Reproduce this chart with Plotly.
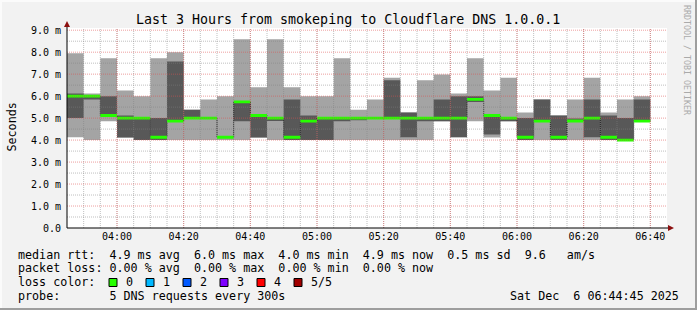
import plotly.graph_objects as go

# ---------------- data ----------------
DAY = "2025-12-06"
times = ["03:45", "03:50", "03:55", "04:00", "04:05", "04:10", "04:15", "04:20",
         "04:25", "04:30", "04:35", "04:40", "04:45", "04:50", "04:55", "05:00",
         "05:05", "05:10", "05:15", "05:20", "05:25", "05:30", "05:35", "05:40",
         "05:45", "05:50", "05:55", "06:00", "06:05", "06:10", "06:15", "06:20",
         "06:25", "06:30", "06:35"]
end_time = "06:40"

# sorted ping RTTs (ms) per 5-minute step: min, 2nd, median, 4th, max
ping_min = [4.13, 4.00, 4.86, 4.12, 4.00, 4.00, 4.00, 4.00, 4.00, 4.00, 4.00, 4.12,
            4.00, 4.00, 4.00, 4.00, 4.00, 4.00, 4.00, 4.00, 4.00, 4.00, 4.86, 4.13,
            4.86, 4.12, 4.86, 4.00, 4.00, 4.00, 4.00, 4.00, 4.00, 4.00, 4.86]
ping_lo = [5.00, 5.85, 5.10, 4.12, 4.00, 4.00, 4.86, 5.00, 5.00, 4.13, 4.86, 4.12,
           4.87, 4.00, 4.00, 4.00, 4.86, 4.90, 5.00, 5.00, 4.13, 4.86, 4.86, 4.13,
           5.73, 4.25, 4.86, 4.00, 4.86, 4.00, 4.86, 4.13, 4.00, 4.00, 4.86]
median = [6.00, 6.00, 5.12, 5.00, 5.00, 4.13, 4.86, 5.00, 5.00, 4.13, 5.74, 5.12,
          5.00, 4.13, 4.86, 5.00, 5.00, 5.00, 5.00, 5.00, 5.00, 5.00, 5.00, 5.00,
          5.85, 5.12, 5.00, 4.13, 4.86, 4.13, 4.87, 5.00, 4.13, 4.00, 4.86]
ping_hi = [6.12, 6.00, 6.00, 5.12, 5.00, 5.00, 7.58, 5.38, 5.00, 4.13, 5.74, 5.12,
           5.00, 5.85, 5.12, 5.00, 5.00, 5.00, 5.00, 6.72, 5.26, 5.00, 5.85, 5.99,
           5.99, 5.12, 5.00, 5.00, 5.85, 5.12, 4.98, 5.85, 5.12, 5.00, 5.85]
ping_max = [7.95, 6.12, 7.72, 6.26, 6.00, 7.72, 8.00, 5.38, 5.85, 6.00, 8.59, 6.40,
            8.59, 6.40, 6.00, 6.00, 7.72, 5.38, 5.85, 6.84, 5.26, 6.72, 6.98, 6.12,
            7.72, 6.26, 6.84, 5.26, 5.85, 5.12, 5.85, 6.84, 5.26, 5.85, 5.99]

y_tickvals = [0, 1, 2, 3, 4, 5, 6, 7, 8, 9]
y_ticktext = ["0.0", "1.0 m", "2.0 m", "3.0 m", "4.0 m", "5.0 m",
              "6.0 m", "7.0 m", "8.0 m", "9.0 m"]
x_ticks = ["04:00", "04:20", "04:40", "05:00", "05:20", "05:40", "06:00", "06:20", "06:40"]
x_minor = ["03:50", "03:55", "04:00", "04:05", "04:10", "04:15", "04:20", "04:25", "04:30",
           "04:35", "04:40", "04:45", "04:50", "04:55", "05:00", "05:05", "05:10", "05:15",
           "05:20", "05:25", "05:30", "05:35", "05:40", "05:45", "05:50", "05:55", "06:00",
           "06:05", "06:10", "06:15", "06:20", "06:25", "06:30", "06:35", "06:40"]
y_minor = [0.5, 1.5, 2.5, 3.5, 4.5, 5.5, 6.5, 7.5, 8.5]
x_start, x_end = "03:45", "06:45"

title = "Last 3 Hours from smokeping to Cloudflare DNS 1.0.0.1"
legend_lines = [
    "median rtt:  4.9 ms avg  6.0 ms max  4.0 ms min  4.9 ms now  0.5 ms sd  9.6   am/s",
    "packet loss: 0.00 % avg  0.00 % max  0.00 % min  0.00 % now",
    "loss color:",
    "probe:       5 DNS requests every 300s",
]
stamp = "Sat Dec  6 06:44:45 2025"
loss_labels = ["0", "1", "2", "3", "4", "5/5"]
loss_colors = ["#26ff00", "#00b8ff", "#0059ff", "#7e00ff", "#ff0000", "#a10000"]

# ---------------- helpers ----------------
W, H = 697, 310
L, R, T, B = 67, 30, 28, 82
PW, PH = W - L - R, H - T - B
YMAX = 9.1
MONO = "DejaVu Sans Mono"


def PX(x):
    return (x - L) / PW


def PY(y):
    return (H - B - y) / PH


def ts(t):
    return f"{DAY} {t}"


def ext(a):
    return list(a) + [a[-1]]


def nb(s):
    return s.replace(" ", "\u00a0")


X = [ts(t) for t in times] + [ts(end_time)]
half = 0.065

fig = go.Figure()


def step(y, fill=None, color=None, width=0, lcolor="rgba(0,0,0,0)", dash=None):
    fig.add_trace(go.Scatter(
        x=X, y=ext(y), mode="lines",
        line=dict(shape="hv", width=width, color=lcolor, dash=dash),
        fill=fill, fillcolor=color, hoverinfo="skip", showlegend=False))


step(ping_min)
step(ping_max, fill="tonexty", color="#a4a4a4")
step(ping_lo)
step(ping_hi, fill="tonexty", color="#585858")
step(median, width=1, lcolor="#202020", dash="1px,1px")
step([m - half for m in median])
step([m + half for m in median], fill="tonexty", color=loss_colors[0])

shapes = []
# grid (drawn above data like rrdtool)
gmin = dict(color="rgba(130,130,130,0.5)", width=1, dash="1px,1px")
gmaj = dict(color="rgba(222,80,80,0.55)", width=1, dash="1px,1px")
for t in x_minor:
    shapes.append(dict(type="line", xref="x", yref="y", x0=ts(t), x1=ts(t), y0=0, y1=YMAX,
                       line=gmin, layer="above"))
for v in y_minor:
    shapes.append(dict(type="line", xref="x", yref="y", x0=ts(x_start), x1=ts(x_end), y0=v, y1=v,
                       line=gmin, layer="above"))
for t in x_ticks:
    shapes.append(dict(type="line", xref="x", yref="y", x0=ts(t), x1=ts(t), y0=0, y1=YMAX,
                       line=gmaj, layer="above"))
for v in y_tickvals[1:]:
    shapes.append(dict(type="line", xref="x", yref="y", x0=ts(x_start), x1=ts(x_end), y0=v, y1=v,
                       line=gmaj, layer="above"))

# axes lines + arrows
shapes.append(dict(type="line", xref="paper", yref="paper", x0=PX(67), x1=PX(669),
                   y0=PY(228), y1=PY(228), line=dict(color="#000000", width=1), layer="above"))
shapes.append(dict(type="line", xref="paper", yref="paper", x0=PX(67), x1=PX(67),
                   y0=PY(228), y1=PY(24), line=dict(color="#000000", width=1), layer="above"))
arrow = "#8c1010"
shapes.append(dict(type="path", xref="paper", yref="paper",
                   path=f"M {PX(668)},{PY(225)} L {PX(674)},{PY(228)} L {PX(668)},{PY(231)} Z",
                   fillcolor=arrow, line=dict(width=0), layer="above"))
shapes.append(dict(type="path", xref="paper", yref="paper",
                   path=f"M {PX(64)},{PY(27)} L {PX(67)},{PY(21)} L {PX(70)},{PY(27)} Z",
                   fillcolor=arrow, line=dict(width=0), layer="above"))

# frame
shapes.append(dict(type="rect", xref="paper", yref="paper", x0=PX(0), x1=PX(697), y0=PY(0), y1=PY(2),
                   fillcolor="#fbfbfb", line=dict(width=0), layer="below"))
shapes.append(dict(type="rect", xref="paper", yref="paper", x0=PX(0), x1=PX(2), y0=PY(0), y1=PY(310),
                   fillcolor="#fbfbfb", line=dict(width=0), layer="below"))
shapes.append(dict(type="rect", xref="paper", yref="paper", x0=PX(695), x1=PX(697), y0=PY(0), y1=PY(310),
                   fillcolor="#9e9e9e", line=dict(width=0), layer="below"))
shapes.append(dict(type="rect", xref="paper", yref="paper", x0=PX(0), x1=PX(697), y0=PY(308), y1=PY(310),
                   fillcolor="#9e9e9e", line=dict(width=0), layer="below"))

# loss colour boxes
box_x = [109, 146, 183, 220, 257, 294]
for bx, c in zip(box_x, loss_colors):
    shapes.append(dict(type="rect", xref="paper", yref="paper", x0=PX(bx), x1=PX(bx + 8),
                       y0=PY(278.5), y1=PY(286.5), fillcolor=c,
                       line=dict(color="#000000", width=1), layer="above"))

ann = []
LEG = 11.7
ann.append(dict(text=nb(title), x=PX(348), y=PY(19), xref="paper", yref="paper",
                showarrow=False, xanchor="center", yanchor="middle",
                font=dict(family=MONO, size=13.3, color="#000000")))
line_y = [254.5, 268.3, 282.3, 296]
for s, yy in zip(legend_lines, line_y):
    ann.append(dict(text=nb(s), x=PX(16), y=PY(yy), xref="paper", yref="paper",
                    showarrow=False, xanchor="left", yanchor="middle",
                    font=dict(family=MONO, size=LEG, color="#000000")))
for bx, lab in zip(box_x, loss_labels):
    ann.append(dict(text=lab, x=PX(bx + 14.5), y=PY(282.3), xref="paper", yref="paper",
                    showarrow=False, xanchor="left", yanchor="middle",
                    font=dict(family=MONO, size=LEG, color="#000000")))
ann.append(dict(text=nb(stamp), x=PX(681), y=PY(296), xref="paper", yref="paper",
                showarrow=False, xanchor="right", yanchor="middle",
                font=dict(family=MONO, size=LEG, color="#000000")))
ann.append(dict(text="Seconds", x=PX(11), y=PY(127.5), xref="paper", yref="paper",
                showarrow=False, textangle=-90, xanchor="center", yanchor="middle",
                font=dict(family=MONO, size=LEG, color="#000000")))
ann.append(dict(text=nb("RRDTOOL / TOBI OETIKER"), x=PX(687), y=PY(60), xref="paper", yref="paper",
                showarrow=False, textangle=90, xanchor="center", yanchor="middle",
                font=dict(family=MONO, size=8.3, color="#aaaaaa")))

fig.update_layout(
    width=W, height=H, autosize=False,
    margin=dict(l=L, r=R, t=T, b=B, pad=0),
    paper_bgcolor="#f2f2f2", plot_bgcolor="#ffffff",
    showlegend=False, shapes=shapes, annotations=ann,
    xaxis=dict(type="date", range=[ts(x_start), ts(x_end)],
               tickvals=[ts(t) for t in x_ticks], ticktext=x_ticks,
               showgrid=False, zeroline=False, showline=False, ticks="",
               tickfont=dict(family=MONO, size=10, color="#000000"),
               ticklabelstandoff=1, fixedrange=True),
    yaxis=dict(range=[0, YMAX], tickvals=y_tickvals, ticktext=y_ticktext,
               showgrid=False, zeroline=False, showline=False, ticks="",
               tickfont=dict(family=MONO, size=10, color="#000000"),
               ticklabelstandoff=5, fixedrange=True),
)

fig.write_html("out.html", config={"displayModeBar": False})
